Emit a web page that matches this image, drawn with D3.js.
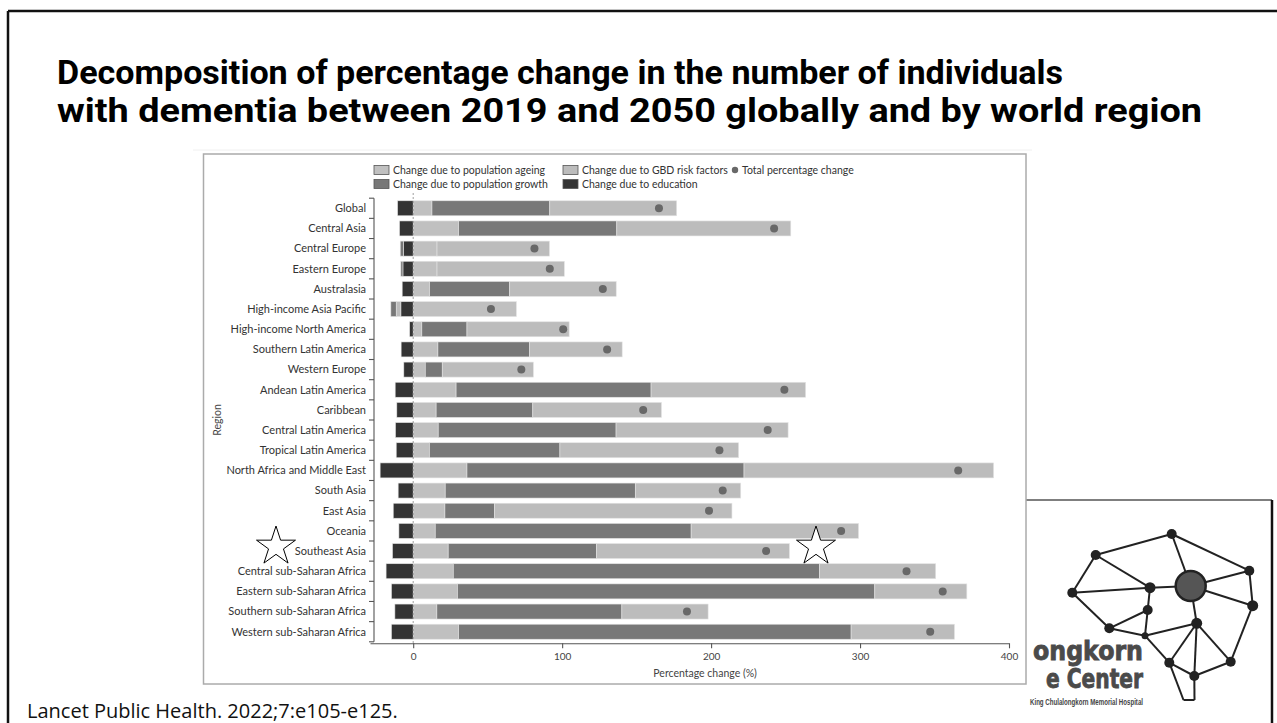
<!DOCTYPE html>
<html>
<head>
<meta charset="utf-8">
<script src="https://cdn.jsdelivr.net/npm/d3@7/dist/d3.min.js"></script>
<style>
  html, body { margin: 0; padding: 0; background: #fff; }
  svg { display: block; }
</style>
</head>
<body>
<svg id="slide" width="1277" height="723"></svg>
<script>
// ---- Data: percentage change 2019–2050, decomposed by driver ----
const regions = [
  "Global", "Central Asia", "Central Europe", "Eastern Europe", "Australasia",
  "High-income Asia Pacific", "High-income North America", "Southern Latin America",
  "Western Europe", "Andean Latin America", "Caribbean", "Central Latin America",
  "Tropical Latin America", "North Africa and Middle East", "South Asia", "East Asia",
  "Oceania", "Southeast Asia", "Central sub-Saharan Africa", "Eastern sub-Saharan Africa",
  "Southern sub-Saharan Africa", "Western sub-Saharan Africa"
];
const ageing    = [12.6, 30.5, 16, 16, 11.0, 69.3, 5.8, 16.6, 8.1, 28.8, 15.4, 16.8, 10.9, 36.1, 21.5, 21.3, 14.8, 23.5, 26.9, 29.7, 15.9, 30.5];
const growth    = [79.1, 106.2, -2.2, -1.4, 53.8, -3.6, 30.3, 61.6, 11.4, 130.9, 64.9, 119.4, 87.6, 186.0, 127.6, 33.2, 171.8, 99.6, 245.8, 280.2, 124.2, 263.5];
const riskFactors = [85.2, 116.8, 75.5, 85.5, 71.5, -3.1, 68.6, 62.1, 61.2, 103.8, 86.4, 115.5, 120.0, 167.6, 70.8, 159.5, 112.4, 129.5, 78.1, 61.8, 57.9, 69.4];
const education = [-10.5, -9.2, -6.5, -6.9, -7.4, -8.3, -2.4, -8.1, -6.3, -12.1, -11.0, -11.9, -11.4, -22.2, -10.1, -13.4, -9.6, -13.9, -18.2, -14.6, -12.3, -14.6];
const totalChange = [165, 242.3, 81.4, 91.7, 127.3, 52.2, 100.7, 130.2, 72.6, 249.2, 154.4, 238.0, 205.6, 365.9, 207.8, 198.6, 287.3, 236.9, 331.2, 355.5, 183.8, 347.1];
const xTicks = [0, 100, 200, 300, 400];

const seriesNames = {
  ageing: "Change due to population ageing",
  growth: "Change due to population growth",
  risk: "Change due to GBD risk factors",
  education: "Change due to education",
  total: "Total percentage change"
};
const colors = { ageing: "#c0c0c0", growth: "#787878", risk: "#bcbcbc", education: "#343434", total: "#686868" };

const svg = d3.select("#slide");
const FONT = "Lato, 'Open Sans', sans-serif";

// ---- Slide frame ----
svg.append("line").attr("x1", 8).attr("x2", 1277).attr("y1", 11).attr("y2", 11)
  .attr("stroke", "#111").attr("stroke-width", 2.5);
svg.append("line").attr("x1", 8).attr("x2", 8).attr("y1", 11).attr("y2", 723)
  .attr("stroke", "#111").attr("stroke-width", 2.5);

// ---- Title ----
const title = svg.append("text")
  .attr("font-family", "Roboto, 'Liberation Sans', sans-serif")
  .attr("font-weight", 700)
  .attr("font-size", 33)
  .attr("fill", "#000");
title.append("tspan").attr("x", 57).attr("y", 84)
  .attr("textLength", 1006).attr("lengthAdjust", "spacingAndGlyphs")
  .text("Decomposition of percentage change in the number of individuals");
title.append("tspan").attr("x", 57).attr("y", 122)
  .attr("textLength", 1145).attr("lengthAdjust", "spacingAndGlyphs")
  .text("with dementia between 2019 and 2050 globally and by world region");

// ---- Logo (network brain + centre name), its left part sits under the figure ----
const logo = svg.append("g");
logo.append("rect").attr("x", 1020).attr("y", 500).attr("width", 252).attr("height", 223).attr("fill", "#fff");
logo.append("line").attr("x1", 1020).attr("x2", 1272).attr("y1", 500).attr("y2", 500)
  .attr("stroke", "#555").attr("stroke-width", 1.5);
logo.append("line").attr("x1", 1272).attr("x2", 1272).attr("y1", 500).attr("y2", 723)
  .attr("stroke", "#111").attr("stroke-width", 2.5);

const nodes = {
  A: [1171.7, 534], B: [1095.7, 555], C: [1249.3, 570.7], D: [1190.7, 586],
  E: [1150, 587.7], F: [1072.3, 592.7], G: [1252.7, 605.7], H: [1147.7, 610],
  I: [1196.7, 623.3], J: [1109.3, 628.3], K: [1145, 635.7], L: [1169.3, 662.7],
  M: [1230.7, 661.7], N: [1194.3, 676], P: [1183.5, 700], Q: [1194.5, 700]
};
const links = ["AB", "AC", "AD", "BE", "BF", "FE", "ED", "EH", "FJ", "JH", "HK", "JK", "KI", "KL",
  "DC", "DG", "DI", "CG", "GM", "IL", "IN", "IM", "LN", "NM", "LP", "PQ", "QN"];
logo.selectAll("line.edge").data(links).join("line").attr("class", "edge")
  .attr("x1", d => nodes[d[0]][0]).attr("y1", d => nodes[d[0]][1])
  .attr("x2", d => nodes[d[1]][0]).attr("y2", d => nodes[d[1]][1])
  .attr("stroke", "#222").attr("stroke-width", 2);
const dotNodes = ["A", "B", "C", "E", "F", "G", "H", "I", "J", "L", "M", "N"];
logo.selectAll("circle.node").data(dotNodes).join("circle").attr("class", "node")
  .attr("cx", d => nodes[d][0]).attr("cy", d => nodes[d][1])
  .attr("r", d => (d === "I" || d === "G" || d === "E") ? 5.5 : 5)
  .attr("fill", "#222");
logo.append("circle").attr("cx", nodes.K[0]).attr("cy", nodes.K[1]).attr("r", 3.5).attr("fill", "#222");
logo.append("circle").attr("cx", nodes.D[0]).attr("cy", nodes.D[1]).attr("r", 15)
  .attr("fill", "#555").attr("stroke", "#222").attr("stroke-width", 2.5);

const logoFont = "'DejaVu Sans Condensed', 'DejaVu Sans', sans-serif";
logo.append("text").attr("x", 1143).attr("y", 660).attr("text-anchor", "end")
  .attr("font-family", logoFont).attr("font-weight", 700).attr("font-size", 27).attr("fill", "#4a4a4a")
  .attr("stroke", "#4a4a4a").attr("stroke-width", 0.8)
  .attr("textLength", 110).attr("lengthAdjust", "spacingAndGlyphs")
  .text("ongkorn");
logo.append("text").attr("x", 1143).attr("y", 688).attr("text-anchor", "end")
  .attr("font-family", logoFont).attr("font-weight", 700).attr("font-size", 27).attr("fill", "#4a4a4a")
  .attr("stroke", "#4a4a4a").attr("stroke-width", 0.8)
  .attr("textLength", 97).attr("lengthAdjust", "spacingAndGlyphs")
  .text("e Center");
logo.append("text").attr("x", 1143).attr("y", 705).attr("text-anchor", "end")
  .attr("font-family", "'Liberation Sans', Arial, sans-serif").attr("font-size", 9.5).attr("font-weight", 700)
  .attr("textLength", 113).attr("lengthAdjust", "spacingAndGlyphs").attr("fill", "#444")
  .text("King Chulalongkorn Memorial Hospital");

// ---- Figure panel ----
svg.append("line").attr("x1", 193).attr("x2", 1032).attr("y1", 150).attr("y2", 150)
  .attr("stroke", "#f0f0f0").attr("stroke-width", 1);
svg.append("rect").attr("x", 203.5).attr("y", 154).attr("width", 822.5).attr("height", 530)
  .attr("fill", "#fff").attr("stroke", "#ababab").attr("stroke-width", 1.5);

const chart = svg.append("g");

const x = d3.scaleLinear().domain([-29, 400]).range([370, 1009]);
const y = d3.scaleBand().domain(regions).range([198.2, 641.8]).paddingInner(0.256).paddingOuter(0.128);
const axisY = 643.3;
const yAxisX = 374;

// Build stacked segments: positives stack outward as ageing, growth, risk;
// negatives stack outward as education, risk, growth.
const segments = [];
regions.forEach((r, i) => {
  const parts = { ageing: ageing[i], growth: growth[i], risk: riskFactors[i], education: education[i] };
  let pos = 0, neg = 0;
  ["ageing", "growth", "risk"].forEach(k => {
    if (parts[k] > 0) { segments.push({ r, k, v0: pos, v1: pos + parts[k] }); pos += parts[k]; }
  });
  ["education", "risk", "growth", "ageing"].forEach(k => {
    if (parts[k] < 0) { segments.push({ r, k, v0: neg + parts[k], v1: neg }); neg += parts[k]; }
  });
});

chart.selectAll("rect.seg").data(segments).join("rect").attr("class", "seg")
  .attr("x", d => x(d.v0)).attr("width", d => x(d.v1) - x(d.v0))
  .attr("y", d => y(d.r)).attr("height", y.bandwidth())
  .attr("fill", d => colors[d.k])
  .attr("stroke", "#e4e4e4").attr("stroke-width", 0.6);

// zero reference line
chart.append("line").attr("x1", x(0)).attr("x2", x(0)).attr("y1", 193).attr("y2", axisY)
  .attr("stroke", "#888").attr("stroke-width", 0.8).attr("stroke-dasharray", "2,2");

// total change markers
chart.selectAll("circle.total").data(regions).join("circle").attr("class", "total")
  .attr("cx", (d, i) => x(totalChange[i])).attr("cy", d => y(d) + y.bandwidth() / 2)
  .attr("r", 4).attr("fill", colors.total);

// x axis
const xAxis = chart.append("g").attr("transform", `translate(0,${axisY})`)
  .call(d3.axisBottom(x).tickValues(xTicks).tickSize(5).tickSizeOuter(0).tickFormat(d3.format("d")));
xAxis.select(".domain").attr("stroke", "#555").attr("stroke-width", 1.1);
xAxis.selectAll(".tick line").attr("stroke", "#555").attr("stroke-width", 1.1);
xAxis.selectAll(".tick text").attr("font-family", FONT).attr("font-size", 10).attr("fill", "#444").attr("dy", "0.9em");

chart.append("text").attr("x", x(196)).attr("y", 677).attr("text-anchor", "middle")
  .attr("font-family", FONT).attr("font-size", 10.5).attr("fill", "#444")
  .text("Percentage change (%)");

// y axis: bracket-style ticks at band boundaries
const yr = y.range();
chart.append("line").attr("x1", yAxisX).attr("x2", yAxisX).attr("y1", yr[0]).attr("y2", yr[1])
  .attr("stroke", "#555").attr("stroke-width", 1.1);
const bounds = d3.range(regions.length + 1).map(i => yr[0] + i * y.step());
chart.selectAll("line.ytick").data(bounds).join("line").attr("class", "ytick")
  .attr("x1", yAxisX - 5).attr("x2", yAxisX).attr("y1", d => d).attr("y2", d => d)
  .attr("stroke", "#555").attr("stroke-width", 1.1);
chart.selectAll("text.ylab").data(regions).join("text").attr("class", "ylab")
  .attr("x", 366).attr("y", d => y(d) + y.bandwidth() / 2).attr("dy", "0.35em")
  .attr("text-anchor", "end").attr("font-family", FONT).attr("font-size", 11).attr("fill", "#333")
  .text(d => d);

chart.append("text").attr("transform", "translate(221,420) rotate(-90)").attr("text-anchor", "middle")
  .attr("font-family", FONT).attr("font-size", 10.5).attr("fill", "#444").text("Region");

// legend
const legendItems = [
  { k: "ageing", col: 0, row: 0 }, { k: "risk", col: 1, row: 0 }, { k: "total", col: 2, row: 0 },
  { k: "growth", col: 0, row: 1 }, { k: "education", col: 1, row: 1 }
];
const colX = [374, 563, 734];
const rowY = [170, 184];
const lg = chart.append("g");
legendItems.forEach(it => {
  const gx = colX[it.col], gy = rowY[it.row];
  if (it.k === "total") {
    lg.append("circle").attr("cx", gx + 1).attr("cy", gy).attr("r", 3.2).attr("fill", colors.total);
    lg.append("text").attr("x", gx + 8).attr("y", gy).attr("dy", "0.35em")
      .attr("font-family", FONT).attr("font-size", 10.5).attr("fill", "#333").text(seriesNames.total);
  } else {
    lg.append("rect").attr("x", gx).attr("y", gy - 4.5).attr("width", 15).attr("height", 9)
      .attr("fill", colors[it.k]).attr("stroke", "#555").attr("stroke-width", 0.8);
    lg.append("text").attr("x", gx + 19).attr("y", gy).attr("dy", "0.35em")
      .attr("font-family", FONT).attr("font-size", 10.5).attr("fill", "#333").text(seriesNames[it.k]);
  }
});

// ---- Highlight stars ----
function starPath(cx, cy, R) {
  const r = R * 0.382;
  const pts = d3.range(10).map(i => {
    const a = -Math.PI / 2 + i * Math.PI / 5;
    const rad = i % 2 === 0 ? R : r;
    return [cx + rad * Math.cos(a), cy + rad * Math.sin(a)];
  });
  return d3.line()(pts) + "Z";
}
[[276, 546.5], [816, 546.5]].forEach(([cx, cy]) => {
  svg.append("path").attr("d", starPath(cx, cy, 20.5))
    .attr("fill", "#fff").attr("stroke", "#000").attr("stroke-width", 1);
});

// ---- Source ----
svg.append("text").attr("x", 27).attr("y", 718)
  .attr("font-family", "'Open Sans', 'Noto Sans', sans-serif").attr("font-size", 20).attr("fill", "#111")
  .text("Lancet Public Health. 2022;7:e105-e125.");
</script>
</body>
</html>
